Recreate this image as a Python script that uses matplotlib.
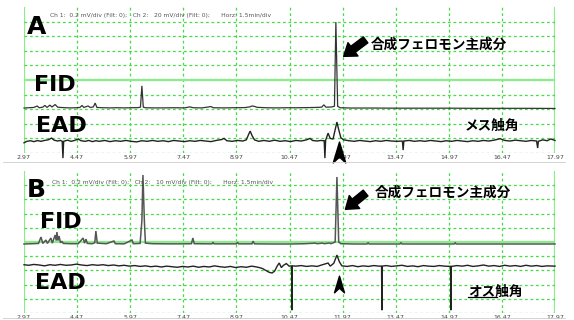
import numpy as np
import matplotlib
matplotlib.use("Agg")
import matplotlib.pyplot as plt
from matplotlib.path import Path
from matplotlib.lines import Line2D

# x axis: retention time (min), 1.5 min/div ; y axis: screen divisions (0..10)
tick_times = [2.97, 4.47, 5.97, 7.47, 8.97, 10.47, 11.97, 13.47, 14.97, 16.47, 17.97]
tick_labels = ["2.97", "4.47", "5.97", "7.47", "8.97", "10.47", "11.97", "13.47", "14.97", "16.47", "17.97"]

header_a = "Ch 1:  0.2 mV/div (Filt: 0);   Ch 2:   20 mV/div (Filt: 0);      Horz: 1.5min/div"
header_b = "Ch 1:  0.2 mV/div (Filt: 0);   Ch 2:   10 mV/div (Filt: 0);      Horz: 1.5min/div"
label_peak = "合成フェロモン主成分"
label_female = "メス触角"
label_male = "オス触角"

# panel A, FID trace (time, div)
a_fid = [(2.97, 3.08), (3.10, 3.10), (3.25, 3.12), (3.34, 3.22), (3.40, 3.10), (3.50, 3.14),
         (3.56, 3.26), (3.62, 3.12), (3.70, 3.28), (3.76, 3.15), (3.85, 3.32), (3.92, 3.14),
         (4.00, 3.12), (4.15, 3.10), (4.30, 3.09), (4.45, 3.10), (4.55, 3.12), (4.61, 3.26),
         (4.66, 3.12), (4.78, 3.22), (4.84, 3.12), (4.93, 3.16), (4.98, 3.42), (5.03, 3.12),
         (5.20, 3.10), (5.40, 3.09), (5.60, 3.10), (5.80, 3.09), (6.00, 3.10), (6.20, 3.11),
         (6.26, 3.14), (6.30, 4.60), (6.34, 3.14), (6.40, 3.10), (6.60, 3.09), (6.90, 3.09),
         (7.20, 3.10), (7.50, 3.09), (7.66, 3.16), (7.75, 3.10), (8.00, 3.09), (8.25, 3.18),
         (8.32, 3.10), (8.60, 3.09), (8.90, 3.10), (9.20, 3.11), (9.35, 3.16), (9.41, 3.22),
         (9.47, 3.20), (9.55, 3.13), (9.80, 3.10), (10.10, 3.09), (10.40, 3.10), (10.70, 3.10),
         (11.00, 3.11), (11.20, 3.12), (11.38, 3.14), (11.44, 3.30), (11.50, 3.14), (11.65, 3.15),
         (11.74, 3.20), (11.78, 8.97), (11.83, 3.20), (11.90, 3.10), (12.20, 3.08), (12.80, 3.08),
         (13.50, 3.07), (14.30, 3.07), (15.00, 3.07), (15.80, 3.06), (16.60, 3.06), (17.30, 3.06),
         (17.97, 3.05)]

# panel A, EAD trace (female antenna)
a_ead = [(2.97, 0.70), (3.05, 0.80), (3.15, 0.84), (3.25, 0.78), (3.35, 0.85), (3.45, 0.80),
         (3.55, 0.86), (3.65, 0.90), (3.75, 1.02), (3.82, 0.88), (3.92, 0.82), (4.00, 0.86),
         (4.05, 0.80), (4.07, -0.35), (4.09, 0.80), (4.20, 0.88), (4.30, 0.80), (4.40, 0.86),
         (4.50, 0.96), (4.58, 0.84), (4.70, 0.80), (4.80, 0.86), (4.90, 0.78), (5.00, 0.84),
         (5.10, 0.80), (5.25, 0.86), (5.40, 0.78), (5.55, 0.84), (5.70, 0.80), (5.85, 0.86),
         (6.00, 0.80), (6.15, 0.76), (6.30, 0.84), (6.45, 0.80), (6.60, 0.86), (6.75, 0.80),
         (6.90, 0.84), (7.05, 0.78), (7.20, 0.86), (7.35, 0.82), (7.50, 0.78), (7.65, 0.84),
         (7.80, 0.80), (7.95, 0.86), (8.10, 0.82), (8.25, 0.78), (8.40, 0.86), (8.55, 0.92),
         (8.62, 1.00), (8.70, 0.84), (8.85, 0.80), (9.00, 0.86), (9.15, 0.82), (9.25, 0.90),
         (9.32, 1.30), (9.36, 1.50), (9.41, 1.20), (9.48, 0.90), (9.60, 0.80), (9.75, 0.86),
         (9.90, 0.80), (10.05, 0.88), (10.20, 0.80), (10.35, 0.84), (10.50, 0.78), (10.65, 0.86),
         (10.80, 0.82), (10.95, 0.90), (11.05, 1.00), (11.12, 0.86), (11.25, 0.82), (11.35, 0.86),
         (11.45, 0.84), (11.47, -0.35), (11.49, 0.86), (11.56, 1.36), (11.62, 1.00), (11.70, 0.95),
         (11.76, 1.60), (11.81, 2.12), (11.86, 1.60), (11.92, 1.05), (12.00, 0.90), (12.15, 0.84),
         (12.30, 0.80), (12.45, 0.86), (12.60, 0.82), (12.75, 0.78), (12.90, 0.84), (13.05, 0.80),
         (13.20, 0.86), (13.35, 0.82), (13.50, 0.80), (13.66, 0.82), (13.68, 0.20), (13.70, 0.82),
         (13.85, 0.86), (14.00, 0.80), (14.15, 0.84), (14.30, 0.80), (14.45, 0.86), (14.60, 0.82),
         (14.75, 0.78), (14.90, 0.84), (15.05, 0.80), (15.20, 0.86), (15.35, 0.82), (15.50, 0.78),
         (15.65, 0.84), (15.80, 0.80), (15.95, 0.86), (16.10, 0.82), (16.25, 0.88), (16.42, 0.98),
         (16.55, 0.86), (16.70, 0.82), (16.85, 0.88), (17.00, 0.84), (17.15, 0.80), (17.30, 0.86),
         (17.45, 0.82), (17.48, 0.34), (17.50, 0.80), (17.62, 0.90), (17.75, 0.84), (17.85, 0.96),
         (17.97, 0.86)]

# panel B, FID trace
b_fid = [(2.97, 4.86), (3.20, 4.88), (3.38, 4.90), (3.45, 5.35), (3.50, 4.90), (3.59, 5.14),
         (3.63, 4.90), (3.73, 5.28), (3.77, 4.92), (3.85, 5.49), (3.88, 5.10), (3.90, 5.70),
         (3.93, 5.10), (3.96, 5.42), (4.00, 4.95), (4.04, 5.05), (4.08, 4.90), (4.30, 4.88),
         (4.50, 4.88), (4.64, 5.28), (4.68, 4.92), (4.72, 5.20), (4.76, 4.90), (4.90, 4.88),
         (4.97, 4.95), (5.00, 5.77), (5.04, 4.92), (5.30, 4.88), (5.51, 5.07), (5.55, 4.88),
         (5.80, 4.87), (6.02, 5.14), (6.06, 4.88), (6.25, 4.90), (6.30, 6.50), (6.33, 9.72),
         (6.37, 6.50), (6.40, 4.92), (6.60, 4.88), (7.00, 4.87), (7.40, 4.87), (7.70, 4.88),
         (7.74, 5.28), (7.78, 4.88), (8.28, 4.87), (8.31, 4.98), (8.34, 4.87), (8.97, 4.87),
         (9.00, 4.98), (9.03, 4.87), (9.41, 4.87), (9.44, 5.06), (9.48, 4.87), (10.00, 4.86),
         (10.50, 4.86), (10.90, 4.88), (11.20, 4.92), (11.25, 4.88), (11.40, 4.92), (11.45, 4.88),
         (11.60, 4.93), (11.64, 4.88), (11.76, 5.00), (11.81, 9.58), (11.86, 5.00), (11.92, 4.88),
         (12.30, 4.86), (12.66, 4.86), (12.69, 4.94), (12.72, 4.86), (13.59, 4.86), (13.62, 4.94),
         (13.65, 4.86), (15.12, 4.86), (15.15, 4.94), (15.18, 4.86), (17.97, 4.86)]

# panel B, EAD trace (male antenna)
b_ead = [(2.97, 3.40), (3.10, 3.36), (3.25, 3.42), (3.40, 3.38), (3.55, 3.32), (3.70, 3.40),
         (3.85, 3.36), (4.00, 3.42), (4.15, 3.36), (4.30, 3.38), (4.45, 3.44), (4.60, 3.38),
         (4.75, 3.34), (4.90, 3.40), (5.05, 3.36), (5.20, 3.40), (5.35, 3.34), (5.50, 3.38),
         (5.65, 3.32), (5.80, 3.36), (5.95, 3.30), (6.10, 3.34), (6.25, 3.28), (6.40, 3.32),
         (6.55, 3.26), (6.70, 3.30), (6.85, 3.24), (7.00, 3.30), (7.15, 3.26), (7.30, 3.22),
         (7.45, 3.28), (7.60, 3.24), (7.75, 3.30), (7.90, 3.22), (8.05, 3.28), (8.20, 3.24),
         (8.35, 3.32), (8.50, 3.26), (8.65, 3.22), (8.80, 3.28), (8.95, 3.20), (9.10, 3.26),
         (9.25, 3.22), (9.40, 3.30), (9.55, 3.24), (9.70, 3.14), (9.80, 3.00), (9.90, 2.86),
         (9.98, 2.82), (10.05, 2.95), (10.12, 3.30), (10.18, 3.52), (10.24, 3.20), (10.30, 3.36),
         (10.38, 3.48), (10.46, 3.30), (10.53, 3.32), (10.54, 0.20), (10.55, 3.32), (10.65, 3.30),
         (10.80, 3.34), (10.95, 3.28), (11.10, 3.32), (11.25, 3.28), (11.35, 3.36), (11.56, 3.52),
         (11.62, 3.30), (11.72, 3.50), (11.81, 4.08), (11.88, 3.60), (11.95, 3.32), (12.10, 3.28),
         (12.25, 3.34), (12.40, 3.26), (12.55, 3.32), (12.70, 3.28), (12.85, 3.34), (13.00, 3.30),
         (13.07, 3.30), (13.08, 0.20), (13.09, 3.30), (13.20, 3.34), (13.35, 3.28), (13.50, 3.32),
         (13.65, 3.36), (13.80, 3.28), (13.95, 3.32), (14.10, 3.26), (14.25, 3.34), (14.40, 3.30),
         (14.55, 3.28), (14.70, 3.34), (14.85, 3.30), (15.02, 3.28), (15.03, 0.20), (15.04, 3.28),
         (15.20, 3.34), (15.35, 3.30), (15.50, 3.36), (15.65, 3.28), (15.80, 3.32), (15.95, 3.38),
         (16.10, 3.30), (16.25, 3.34), (16.40, 3.28), (16.55, 3.36), (16.70, 3.30), (16.85, 3.34),
         (17.00, 3.28), (17.15, 3.36), (17.30, 3.30), (17.45, 3.34), (17.60, 3.28), (17.75, 3.32),
         (17.97, 3.30)]

JP = ["Noto Sans CJK JP", "DejaVu Sans"]
GRID_DASH = "#44dd44"
GRID_SOLID = "#88ee88"

# filled chevron used as the response marker
caret = Path([(0, 0.5), (0.3, -0.5), (0, -0.22), (-0.3, -0.5), (0, 0.5)],
             [Path.MOVETO, Path.LINETO, Path.LINETO, Path.LINETO, Path.CLOSEPOLY])
arrow_style = "simple,head_length=0.7,head_width=1.0,tail_width=0.45"


def draw_screen(ax):
    ax.set_xlim(tick_times[0], tick_times[-1])
    ax.set_ylim(0, 10)
    for s in ax.spines.values():
        s.set_visible(False)
    for t in tick_times[1:-1]:
        ax.axvline(t, color=GRID_DASH, lw=0.9, ls=(0, (2.2, 2.2)), zorder=1)
    for t in (tick_times[0], tick_times[-1]):
        ax.axvline(t, color=GRID_SOLID, lw=1.6, zorder=1)
    for d in range(0, 10):
        if d == 5:
            ax.axhline(d, color=GRID_SOLID, lw=1.6, zorder=1)
        else:
            ax.axhline(d, color=GRID_DASH, lw=0.9, ls=(0, (2.2, 2.2)), zorder=1)
    ax.set_yticks([])
    ax.set_xticks(tick_times)
    ax.set_xticklabels(tick_labels)
    ax.tick_params(axis="x", length=0, pad=1.5, labelsize=4.5, labelcolor="#444444")


def trace(ax, data, lw=0.9, color="#222222"):
    arr = np.array(data)
    ax.plot(arr[:, 0], arr[:, 1], color=color, lw=lw, zorder=3, clip_on=False,
            solid_joinstyle="miter")


fig = plt.figure(figsize=(5.74, 3.2), dpi=100)
ax_a = fig.add_axes([24 / 574, 1 - 153 / 320, 531 / 574, 146 / 320])
ax_b = fig.add_axes([24 / 574, 1 - 313 / 320, 531 / 574, 142 / 320])

# ---- panel A
draw_screen(ax_a)
trace(ax_a, a_fid, lw=0.9, color="#333333")
trace(ax_a, a_ead, lw=1.0)
ax_a.text(3.04, 8.63, "A", fontsize=18, fontweight="bold", va="center", ha="left")
ax_a.text(3.70, 9.40, header_a, fontsize=4.3, color="#555555", va="center", ha="left")
ax_a.text(3.25, 4.66, "FID", fontsize=16, fontweight="bold", va="center", ha="left")
ax_a.text(3.31, 1.88, "EAD", fontsize=16, fontweight="bold", va="center", ha="left")
ax_a.text(12.77, 7.40, label_peak, fontsize=9.8, family=JP, fontweight="bold",
          va="center", ha="left")
ax_a.text(15.43, 1.85, label_female, fontsize=9.8, family=JP, fontweight="bold",
          va="center", ha="left")
ax_a.annotate("", xy=(12.00, 6.62), xytext=(12.62, 7.75),
              arrowprops=dict(arrowstyle=arrow_style, fc="black", ec="black",
                              mutation_scale=12, shrinkA=0, shrinkB=0))
ax_a.plot([11.87], [0.05], marker=caret, markersize=15, color="black", ls="none",
          clip_on=False, zorder=4)

# ---- panel B
draw_screen(ax_b)
trace(ax_b, b_fid, lw=1.1, color="#555555")
trace(ax_b, b_ead, lw=1.0)
ax_b.text(3.04, 8.66, "B", fontsize=18, fontweight="bold", va="center", ha="left")
ax_b.text(3.76, 9.20, header_b, fontsize=4.3, color="#555555", va="center", ha="left")
ax_b.text(3.42, 6.41, "FID", fontsize=16, fontweight="bold", va="center", ha="left")
ax_b.text(3.28, 2.11, "EAD", fontsize=16, fontweight="bold", va="center", ha="left")
ax_b.text(12.89, 8.45, label_peak, fontsize=9.8, family=JP, fontweight="bold",
          va="center", ha="left")
ax_b.text(15.51, 1.48, label_male, fontsize=9.8, family=JP, fontweight="bold",
          va="center", ha="left")
ax_b.plot([15.51, 16.33], [1.10, 1.10], color="black", lw=0.9, zorder=4)
ax_b.annotate("", xy=(12.05, 7.30), xytext=(12.62, 8.45),
              arrowprops=dict(arrowstyle=arrow_style, fc="black", ec="black",
                              mutation_scale=12, shrinkA=0, shrinkB=0))
ax_b.plot([11.87], [2.04], marker=caret, markersize=12, color="black", ls="none",
          clip_on=False, zorder=4)

# faint rules under the tick rows
fig.add_artist(Line2D([0.005, 0.985], [1 - 162 / 320, 1 - 162 / 320], color="#cccccc", lw=0.6))
fig.add_artist(Line2D([0.005, 0.985], [1 - 318 / 320, 1 - 318 / 320], color="#cccccc", lw=0.6))

fig.savefig("out.png", dpi=100)
